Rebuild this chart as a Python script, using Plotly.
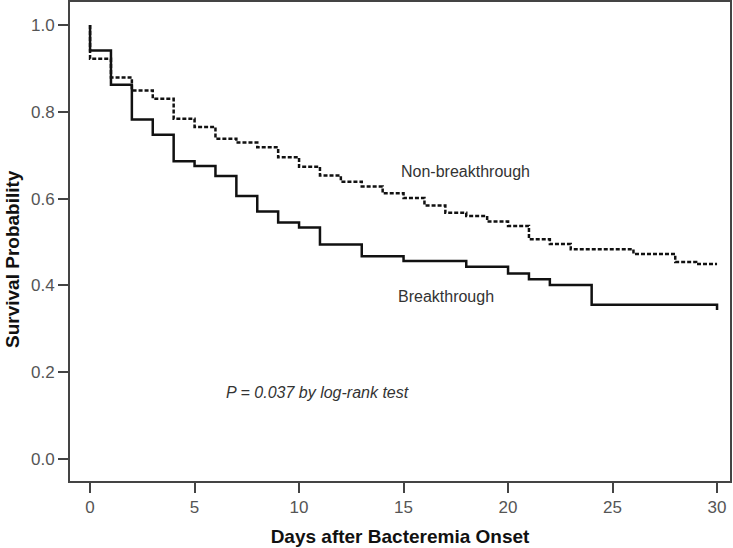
import plotly.graph_objects as go

# Breakthrough group (solid) - event times (days) and survival after each step
bt_times = [0, 1, 2, 3, 4, 5, 6, 7, 8, 9, 10, 11, 13, 15, 18, 20, 21, 22, 24, 30]
bt_surv = [0.941, 0.862, 0.782, 0.747, 0.686, 0.675, 0.652, 0.606, 0.570, 0.545,
           0.533, 0.494, 0.467, 0.456, 0.443, 0.427, 0.414, 0.401, 0.355, 0.343]

# Non-breakthrough group (dotted)
nb_times = [0, 1, 2, 3, 4, 5, 6, 7, 8, 9, 10, 11, 12, 13, 14, 15, 16, 17, 18, 19,
            20, 21, 22, 23, 26, 28, 29, 30]
nb_surv = [0.922, 0.879, 0.849, 0.830, 0.784, 0.765, 0.738, 0.729, 0.718, 0.695,
           0.673, 0.653, 0.639, 0.628, 0.612, 0.601, 0.584, 0.567, 0.560, 0.547,
           0.537, 0.506, 0.495, 0.483, 0.472, 0.454, 0.449, 0.449]

x_ticks = [0, 5, 10, 15, 20, 25, 30]
y_ticks = [0.0, 0.2, 0.4, 0.6, 0.8, 1.0]
y_tick_labels = ["0.0", "0.2", "0.4", "0.6", "0.8", "1.0"]

fig = go.Figure()
fig.add_trace(go.Scatter(
    x=[0] + nb_times, y=[1.0] + nb_surv, mode="lines", line_shape="hv",
    line=dict(color="#111111", width=2.5, dash="4px,2px"), name="Non-breakthrough",
    showlegend=False, hoverinfo="skip"))
fig.add_trace(go.Scatter(
    x=[0] + bt_times, y=[1.0] + bt_surv, mode="lines", line_shape="hv",
    line=dict(color="#111111", width=2.5), name="Breakthrough", showlegend=False,
    hoverinfo="skip"))

fig.add_annotation(x=17.94, y=0.662, text="Non-breakthrough", showarrow=False,
                   font=dict(family="Liberation Sans, Arial", size=16, color="#333333"))
fig.add_annotation(x=17.03, y=0.374, text="Breakthrough", showarrow=False,
                   font=dict(family="Liberation Sans, Arial", size=16, color="#333333"))
fig.add_annotation(x=10.9, y=0.152, text="<i>P = 0.037 by log-rank test</i>", showarrow=False,
                   font=dict(family="Liberation Sans, Arial", size=16, color="#333333"))

# y-axis title as a rotated annotation (sits slightly below the plot centre in the reference)
fig.add_annotation(xref="paper", yref="paper", x=0, y=0.4635, xshift=-57,
                   xanchor="center", yanchor="middle", textangle=-90,
                   text="<b>Survival Probability</b>", showarrow=False,
                   font=dict(family="Liberation Sans, Arial", size=19, color="#111111"))

fig.update_layout(
    width=733, height=548,
    margin=dict(l=70, r=3, t=2, b=67),
    plot_bgcolor="white", paper_bgcolor="white",
    font=dict(family="Liberation Sans, Arial", color="#444444"),
)
fig.update_xaxes(
    range=[-0.96, 30.62], tickvals=x_ticks, ticktext=[str(v) for v in x_ticks],
    showline=True, mirror=True, linecolor="#444444", linewidth=2,
    ticks="outside", ticklen=10, tickwidth=2, tickcolor="#444444",
    showgrid=False, zeroline=False, automargin=False,
    tickfont=dict(size=17, color="#555555"),
    title=dict(text="<b>Days after Bacteremia Onset</b>", standoff=13,
               font=dict(size=19, color="#111111")),
)
fig.update_yaxes(
    range=[-0.051, 1.053], tickvals=y_ticks, ticktext=y_tick_labels,
    showline=True, mirror=True, linecolor="#444444", linewidth=2,
    ticks="outside", ticklen=10, tickwidth=2, tickcolor="#444444",
    showgrid=False, zeroline=False, automargin=False,
    tickfont=dict(size=17, color="#555555"),
)

fig.write_html("out.html", config={"displayModeBar": False},
               post_script="document.body.style.margin='0px';")
